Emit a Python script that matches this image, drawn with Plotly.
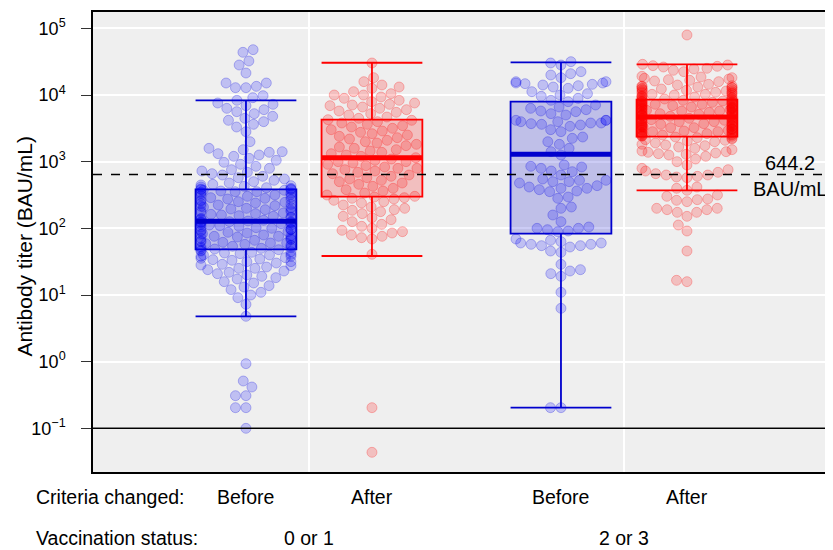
import numpy as np
import plotly.graph_objects as go

# ---------------- data (log10 antibody titer, BAU/mL) ----------------
positions = [1.0, 2.0, 3.5, 4.5]
criteria_labels = ["Before", "After", "Before", "After"]
group_centers = [1.5, 4.0]
group_labels = ["0 or 1", "2 or 3"]

before_01 = [
    -1.00, -0.69, -0.69, -0.51, -0.51, -0.38, -0.29, -0.03,
    0.68, 0.86, 0.96, 1.00, 1.04, 1.08, 1.12, 1.14, 1.18, 1.20, 1.24, 1.26, 1.28, 1.30,
    1.32, 1.34, 1.36, 1.38, 1.40, 1.40, 1.42, 1.44, 1.45, 1.46, 1.48, 1.50, 1.50, 1.52,
    1.53, 1.54, 1.55, 1.56, 1.58, 1.58, 1.60, 1.60, 1.61, 1.62, 1.63, 1.64, 1.65, 1.66,
    1.67, 1.68,
    1.69, 1.70, 1.70, 1.71, 1.72, 1.73, 1.74, 1.75, 1.76, 1.77,
    1.78, 1.78, 1.79, 1.80, 1.81, 1.82, 1.83, 1.84, 1.85, 1.86,
    1.87, 1.88, 1.88, 1.89, 1.90, 1.91, 1.92, 1.93, 1.94, 1.95,
    1.96, 1.97, 1.98, 1.98, 1.99, 2.00, 2.01, 2.02, 2.03, 2.04,
    2.05, 2.05, 2.06, 2.07, 2.08, 2.08, 2.09, 2.09, 2.10, 2.10, 2.10, 2.11,
    2.12, 2.13, 2.14, 2.15, 2.16, 2.17, 2.18, 2.19, 2.20, 2.21,
    2.22, 2.23, 2.24, 2.25, 2.26, 2.27, 2.28, 2.29, 2.30, 2.31,
    2.32, 2.33, 2.34, 2.35, 2.36, 2.37, 2.38, 2.39, 2.40, 2.41,
    2.42, 2.43, 2.44, 2.45, 2.46, 2.47, 2.48, 2.49, 2.50, 2.51,
    2.52, 2.53, 2.54, 2.55, 2.55, 2.56, 2.57, 2.57, 2.58, 2.58, 2.59, 2.59,
    2.60, 2.61, 2.62, 2.63, 2.64, 2.65, 2.66, 2.68, 2.70, 2.72, 2.74, 2.76, 2.78, 2.80,
    2.82, 2.84, 2.86, 2.88, 2.90, 2.93, 2.96, 2.99,
    3.02, 3.05, 3.08, 3.10, 3.12, 3.14, 3.15, 3.18, 3.20, 3.30, 3.45,
    3.52, 3.56, 3.60, 3.62, 3.65, 3.68, 3.72, 3.75, 3.78, 3.80, 3.84, 3.86, 3.88, 3.92,
    3.96, 3.99, 4.11, 4.11, 4.13, 4.18, 4.18, 4.33, 4.45, 4.51, 4.64, 4.68,
]

after_01 = [
    -1.36, -0.69, 1.61,
    1.84, 1.86, 1.88, 1.90, 1.93, 1.95, 1.97, 2.00, 2.03, 2.06, 2.10, 2.13, 2.16, 2.18,
    2.22, 2.25, 2.27, 2.28, 2.30, 2.32, 2.35, 2.38, 2.40, 2.42, 2.44, 2.45, 2.46, 2.47, 2.48,
    2.50, 2.53, 2.56, 2.58, 2.60, 2.63, 2.66, 2.68, 2.70, 2.72, 2.74, 2.76, 2.78, 2.80,
    2.82, 2.84, 2.86, 2.88, 2.90, 2.90, 2.92, 2.94, 2.96, 2.98, 3.00, 3.00, 3.02, 3.04, 3.06,
    3.08, 3.10, 3.12, 3.14, 3.16, 3.18, 3.20, 3.22, 3.24, 3.26, 3.28, 3.30, 3.32, 3.34,
    3.36, 3.38, 3.40, 3.42, 3.44, 3.46, 3.48, 3.50, 3.52, 3.54, 3.56, 3.58, 3.60, 3.62, 3.63,
    3.65, 3.67, 3.70, 3.72, 3.74, 3.76, 3.78, 3.80, 3.82, 3.84, 3.85, 3.86, 3.88, 3.90,
    3.92, 3.95, 3.97, 4.00, 4.00, 4.02, 4.05, 4.10, 4.12, 4.15, 4.20, 4.26, 4.48,
]

before_23 = [
    -0.69, -0.69, 0.80, 1.04, 1.28, 1.32, 1.36, 1.38, 1.46, 1.64, 1.66, 1.72, 1.74, 1.74,
    1.76, 1.76, 1.78, 1.78, 1.80, 1.82, 1.84,
    1.95, 1.96, 1.98, 2.00, 2.00, 2.02, 2.10, 2.20, 2.30, 2.32, 2.45, 2.47, 2.55, 2.56,
    2.58, 2.60, 2.60, 2.62, 2.64, 2.68, 2.70, 2.70, 2.72, 2.72, 2.74, 2.80, 2.85, 2.86,
    2.90, 2.92, 2.93, 2.95, 3.10,
    3.15, 3.20, 3.26, 3.30, 3.35, 3.37, 3.45, 3.48, 3.53, 3.55, 3.56, 3.57, 3.58, 3.58,
    3.60, 3.60, 3.62, 3.62, 3.62, 3.70, 3.72, 3.75, 3.76, 3.78, 3.80, 3.82, 3.85, 3.90,
    3.92, 3.95, 3.98, 4.00, 4.02, 4.05, 4.10, 4.12, 4.14, 4.15, 4.16, 4.17, 4.18, 4.18,
    4.20, 4.20, 4.26, 4.30, 4.32, 4.35, 4.45, 4.48, 4.50,
]

after_23 = [
    1.20, 1.22, 1.66, 1.96, 2.05, 2.18, 2.24, 2.24, 2.28, 2.28, 2.30, 2.30, 2.40, 2.42,
    2.43, 2.44, 2.48, 2.50,
    2.57, 2.60, 2.62, 2.76, 2.77, 2.78, 2.80, 2.80, 2.82, 2.84, 2.86, 2.88, 2.90,
    2.95, 3.00, 3.04, 3.08, 3.10, 3.11, 3.12, 3.13, 3.14, 3.15, 3.16, 3.18, 3.20, 3.22,
    3.24, 3.25, 3.26, 3.28, 3.30, 3.31, 3.32, 3.33, 3.34, 3.35, 3.36, 3.37,
    3.38, 3.38, 3.39, 3.39, 3.40, 3.40, 3.41, 3.41, 3.42, 3.42, 3.43, 3.43, 3.44, 3.44,
    3.45, 3.45, 3.46, 3.46, 3.47, 3.47, 3.48, 3.48, 3.49, 3.49, 3.50, 3.50, 3.51, 3.51,
    3.52, 3.52, 3.53, 3.53, 3.54, 3.54, 3.55, 3.55, 3.56, 3.56, 3.57, 3.57, 3.58, 3.58,
    3.59, 3.59, 3.60, 3.60, 3.61, 3.61, 3.62, 3.62, 3.63, 3.63, 3.64, 3.64, 3.65, 3.65,
    3.66, 3.66,
    3.68, 3.68, 3.69, 3.69, 3.70, 3.70, 3.70, 3.71, 3.71, 3.72, 3.72, 3.73, 3.73, 3.74,
    3.74, 3.75, 3.75, 3.75, 3.76, 3.76, 3.77, 3.77, 3.78, 3.78, 3.79, 3.79, 3.80, 3.80,
    3.80, 3.81, 3.81, 3.82, 3.82, 3.83, 3.83, 3.84, 3.84, 3.85, 3.85, 3.85, 3.86, 3.86,
    3.87, 3.87, 3.88, 3.88, 3.89, 3.89, 3.90, 3.90, 3.90, 3.91, 3.91, 3.92, 3.92, 3.93, 3.93,
    3.94, 3.95, 3.95, 3.96, 3.97, 3.97, 3.98, 3.99, 3.99, 4.00, 4.01, 4.01, 4.02, 4.03,
    4.03, 4.04, 4.05, 4.05, 4.06, 4.07, 4.07, 4.08, 4.09, 4.09, 4.10, 4.11, 4.11, 4.12,
    4.13, 4.13, 4.14, 4.15, 4.16,
    4.20, 4.21, 4.22, 4.23, 4.24, 4.25, 4.26, 4.27, 4.28,
    4.35, 4.37, 4.39, 4.40, 4.42, 4.43, 4.44, 4.45, 4.46, 4.90,
]

# box statistics (log10), order: positions
q1_log = [1.685, 2.475, 1.92, 3.375]
median_log = [2.105, 3.06, 3.11, 3.67]
q3_log = [2.585, 3.63, 3.90, 3.93]
lower_whisker_log = [0.68, 1.585, -0.69, 2.57]
upper_whisker_log = [3.92, 4.484, 4.49, 4.46]

threshold = 644.2
detection_line = 0.1
y_tick_exponents = [-1, 0, 1, 2, 3, 4, 5]

# ---------------- layout constants ----------------
# the html page body has an 8px margin; the figure is sized so the plot area
# lands at page pixels x 93..833, y 12..472
PAGE_OFF = 8
W, H = 833 - PAGE_OFF, 550 - PAGE_OFF
ML, MR, MT, MB = 93 - PAGE_OFF, 0, 12 - PAGE_OFF, 78
X_RANGE = [-0.214, 5.659]
Y_RANGE = [-1.655, 5.245]
PX_PER_X = (W - ML - MR) / (X_RANGE[1] - X_RANGE[0])
PX_PER_DEC = (H - MT - MB) / (Y_RANGE[1] - Y_RANGE[0])
BOX_W = 0.8
DIAM = 10.5
LIMIT = 45.0

BLUE = "#0000CD"
RED = "#FF0000"
colors = [BLUE, RED, BLUE, RED]
pt_fill = {BLUE: "rgba(0,0,255,0.2)", RED: "rgba(255,0,0,0.2)"}
pt_line = {BLUE: "rgba(0,0,220,0.25)", RED: "rgba(255,0,0,0.25)"}
box_fill = {BLUE: "rgba(0,0,205,0.2)", RED: "rgba(255,0,0,0.2)"}


def swarm_offsets(vals_log):
    ys = np.asarray(vals_log, dtype=float) * PX_PER_DEC
    order = np.argsort(ys, kind="stable")
    px_list, py_list = [], []
    xs = np.zeros(len(ys))
    for i in order:
        y = ys[i]
        near = [(px, py) for px, py in zip(px_list, py_list) if abs(py - y) < DIAM]
        cands = [0.0]
        for px, py in near:
            dx = np.sqrt(DIAM ** 2 - (py - y) ** 2)
            cands.extend([px - dx, px + dx])
        cands.sort(key=lambda c: (abs(c), c))
        for c in cands:
            if all((c - px) ** 2 + (y - py) ** 2 >= DIAM ** 2 - 1e-6 for px, py in near):
                xs[i] = c
                break
        px_list.append(xs[i])
        py_list.append(y)
    xs = np.clip(xs, -LIMIT, LIMIT)
    return xs / PX_PER_X


groups = [before_01, after_01, before_23, after_23]

fig = go.Figure()

# boxes
for col in [BLUE, RED]:
    idx = [i for i, c in enumerate(colors) if c == col]
    fig.add_trace(go.Box(
        x=[positions[i] for i in idx],
        q1=[10 ** q1_log[i] for i in idx],
        median=[10 ** median_log[i] for i in idx],
        q3=[10 ** q3_log[i] for i in idx],
        lowerfence=[10 ** lower_whisker_log[i] for i in idx],
        upperfence=[10 ** upper_whisker_log[i] for i in idx],
        width=BOX_W, whiskerwidth=1, boxpoints=False,
        fillcolor=box_fill[col], line=dict(color=col, width=1.8),
        showlegend=False, hoverinfo="skip",
    ))

# swarm points
for pos, vals, col in zip(positions, groups, colors):
    off = swarm_offsets(vals)
    fig.add_trace(go.Scatter(
        x=pos + off, y=[10 ** v for v in vals], mode="markers",
        marker=dict(size=10, color=pt_fill[col], line=dict(color=pt_line[col], width=1)),
        showlegend=False, hoverinfo="skip",
    ))

# thick median lines
for pos, m, col in zip(positions, median_log, colors):
    fig.add_trace(go.Scatter(
        x=[pos - BOX_W / 2, pos + BOX_W / 2], y=[10 ** m, 10 ** m], mode="lines",
        line=dict(color=col, width=5), showlegend=False, hoverinfo="skip",
    ))

# reference lines
fig.add_shape(type="line", xref="paper", x0=0, x1=1, yref="y", y0=threshold, y1=threshold,
              line=dict(color="black", width=1.5, dash="dash"))
fig.add_shape(type="line", xref="paper", x0=0, x1=1, yref="y", y0=detection_line, y1=detection_line,
              line=dict(color="black", width=1.5))

FONT = "Liberation Sans, Arial, sans-serif"
LAB = 19.5
ann = []
ann.append(dict(text="644.2", xref="paper", yref="paper", x=0.942, y=0.672, showarrow=False,
                xanchor="center", yanchor="middle", font=dict(size=20, color="black")))
ann.append(dict(text="BAU/mL", xref="paper", yref="paper", x=0.942, y=0.615, showarrow=False,
                xanchor="center", yanchor="middle", font=dict(size=20, color="black")))
for pos, lab in zip(positions, criteria_labels):
    ann.append(dict(text=lab, xref="x", yref="paper", x=pos, y=-0.0543, showarrow=False,
                    xanchor="center", yanchor="middle", font=dict(size=LAB, color="black")))
for pos, lab in zip(group_centers, group_labels):
    ann.append(dict(text=lab, xref="x", yref="paper", x=pos, y=-0.1435, showarrow=False,
                    xanchor="center", yanchor="middle", font=dict(size=LAB, color="black")))
ann.append(dict(text="Criteria changed:", xref="paper", yref="paper", x=-0.080, y=-0.0543,
                xanchor="left", yanchor="middle", showarrow=False, font=dict(size=LAB, color="black")))
ann.append(dict(text="Vaccination status:", xref="paper", yref="paper", x=-0.080, y=-0.1435,
                xanchor="left", yanchor="middle", showarrow=False, font=dict(size=LAB, color="black")))
ann.append(dict(text="Antibody titer (BAU/mL)", xref="paper", yref="paper", x=-0.0926, y=0.491,
                textangle=-90, showarrow=False, font=dict(size=21, color="black"),
                xanchor="center", yanchor="middle"))

fig.update_layout(
    width=W, height=H, autosize=False,
    margin=dict(l=ML, r=MR, t=MT, b=MB, autoexpand=False),
    paper_bgcolor="white", plot_bgcolor="#efefef",
    font=dict(family=FONT, size=18, color="black"),
    boxmode="overlay",
    annotations=ann,
    showlegend=False,
)
fig.update_xaxes(
    range=X_RANGE, tickvals=group_centers, showticklabels=False, ticks="",
    showgrid=True, gridcolor="white", gridwidth=2, zeroline=False,
    showline=True, linecolor="black", linewidth=1.5, mirror=True,
)
fig.update_yaxes(
    type="log", range=Y_RANGE,
    tickvals=[10.0 ** e for e in y_tick_exponents],
    ticktext=[f"10<sup>{'−' + str(-e) if e < 0 else e}</sup>" for e in y_tick_exponents],
    ticks="outside", ticklen=10, tickwidth=1, tickcolor="#333",
    ticklabelstandoff=12,
    showgrid=True, gridcolor="white", gridwidth=2, zeroline=False,
    showline=True, linecolor="black", linewidth=1.5,
    tickfont=dict(size=18),
)

fig.write_html("out.html")
